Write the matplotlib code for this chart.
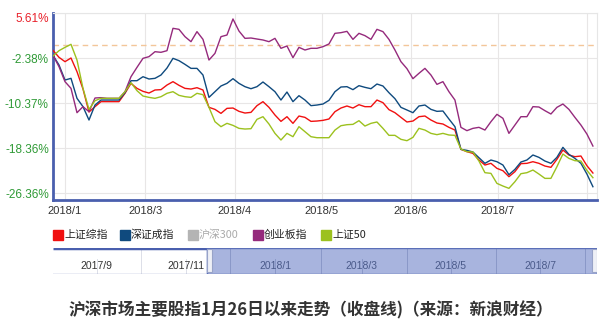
import numpy as np
import pandas as pd
import matplotlib
matplotlib.use("Agg")
import matplotlib.pyplot as plt
from matplotlib.patches import Rectangle

plt.rcParams['font.family'] = ['Noto Sans CJK SC', 'DejaVu Sans']

# 收盘价相对 1 月 26 日的涨跌幅 (%), 大约每两天一个读数
dates = pd.date_range('2018-01-28', '2018-08-03', periods=91)

sh_comp = [-1.02, -2.26, -3.03, -2.38, -4.81, -7.89, -11.97, -11.02, -10.13, -10.13, -10.13, -10.13, -8.65, -6.88, -7.77, -8.30, -8.60,
           -8.06, -8.00, -7.18, -6.58, -7.23, -7.77, -7.89, -7.65, -8.06, -11.14, -11.50, -12.21, -11.32, -11.26, -11.85,
           -12.15, -12.03, -10.84, -10.13, -11.14, -12.50, -13.63, -12.80, -13.98, -12.68, -12.92, -13.63, -13.57, -13.45, -13.21, -11.91,
           -11.26, -10.90, -11.26, -10.67, -11.02, -11.02, -9.84, -10.31, -11.55, -12.09, -12.92, -13.74, -13.57, -12.80, -12.68, -13.39,
           -13.92, -14.10, -14.69, -15.17, -18.60, -19.01, -19.31, -20.49, -21.38, -21.08, -21.97, -22.39, -23.45, -22.56, -21.14,
           -21.08, -20.79, -21.08, -21.56, -21.79, -20.37, -18.72, -19.60, -19.90, -19.78, -21.50, -22.80]

sz_comp = [-1.91, -3.62, -6.29, -5.99, -9.54, -11.02, -13.39, -10.73, -9.84, -9.84, -9.84, -9.84, -8.54, -6.41, -6.41, -5.70, -6.11,
           -5.99, -5.40, -4.16, -2.44, -2.85, -3.51, -4.22, -4.22, -5.40, -9.37, -8.36, -7.35, -6.88, -6.05, -6.88,
           -7.47, -7.83, -7.47, -6.64, -7.47, -8.36, -9.84, -8.42, -10.13, -9.07, -9.84, -10.84, -10.73, -10.55, -9.90, -8.36,
           -7.53, -7.47, -8.00, -7.29, -7.59, -7.83, -7.00, -7.35, -8.54, -9.60, -11.14, -11.61, -12.09, -10.90, -10.73, -11.50,
           -11.85, -11.79, -13.21, -14.57, -18.60, -18.78, -19.07, -20.08, -21.08, -20.49, -20.79, -21.38, -23.10, -22.15, -20.85,
           -20.49, -19.60, -20.02, -20.67, -21.08, -20.02, -18.24, -19.49, -20.20, -21.08, -22.98, -25.23]

chinext = [-1.91, -3.92, -6.58, -7.77, -12.09, -11.02, -11.91, -9.48, -9.42, -9.54, -9.54, -9.54, -8.36, -5.70, -4.04, -2.44, -2.14,
           -1.26, -1.37, -1.08, 2.89, 2.71, 1.41, 0.52, 2.30, 0.93, -2.74, -1.55, 1.41, 1.70, 4.55, 2.41,
           1.11, 1.17, 0.99, 0.82, 0.52, 1.11, -0.66, -0.25, -2.32, -0.49, -0.96, -0.66, -0.66, -0.37, 0.11, 2.00,
           2.12, 2.35, 0.93, 2.00, 1.59, 0.93, 2.71, 2.30, 0.93, -0.96, -3.03, -4.27, -6.05, -5.10, -4.22, -5.40,
           -7.06, -6.58, -8.36, -9.84, -14.69, -15.28, -14.87, -14.69, -15.17, -13.69, -12.38, -13.09, -15.76, -14.28, -12.80,
           -12.80, -11.02, -11.08, -11.73, -12.32, -11.14, -10.55, -11.50, -12.92, -14.28, -15.88, -18.01]

sh50 = [-2.03, -1.08, -0.49, 0.05, -2.74, -7.77, -11.50, -9.96, -9.54, -9.54, -9.54, -9.54, -8.36, -6.76, -8.18, -9.13, -9.37,
        -9.54, -9.25, -8.65, -8.36, -9.01, -9.25, -9.37, -8.65, -8.89, -11.14, -13.69, -14.57, -13.98, -14.34, -14.87,
        -14.99, -14.93, -13.27, -12.80, -14.10, -15.76, -16.94, -15.76, -16.35, -14.57, -15.46, -16.35, -16.53, -16.53, -16.53, -15.17,
        -14.40, -14.22, -14.16, -13.51, -14.46, -13.98, -13.74, -14.87, -16.11, -16.11, -16.82, -17.06, -16.47, -14.87, -15.17, -15.76,
        -15.99, -15.76, -16.05, -16.11, -18.54, -19.01, -19.07, -20.67, -22.74, -22.86, -24.64, -25.11, -25.52, -24.34, -22.92,
        -22.74, -22.27, -22.98, -23.75, -23.75, -21.68, -19.43, -20.20, -20.61, -20.67, -22.33, -23.63]

names = ['上证综指', '深证成指', '沪深300', '创业板指', '上证50']
colors = ['#f01010', '#0f4a7e', '#b4b4b4', '#952a7c', '#9cc11e']

yticks = [5.61, -2.38, -10.37, -18.36, -26.36]
month_ticks = pd.to_datetime(['2018-02-01', '2018-03-01', '2018-04-01', '2018-05-01',
                              '2018-06-01', '2018-07-01', '2018-08-01'])
month_labels = ['2018/1', '2018/3', '2018/4', '2018/5', '2018/6', '2018/7', '']

nav_months = pd.date_range('2017-08-01', '2018-08-01', freq='MS')
nav_labels = {'2017-09-01': '2017/9', '2017-11-01': '2017/11', '2018-01-01': '2018/1',
              '2018-03-01': '2018/3', '2018-05-01': '2018/5', '2018-07-01': '2018/7'}

title = '沪深市场主要股指1月26日以来走势（收盘线)（来源：新浪财经）'

W, H = 610, 330
fig = plt.figure(figsize=(W / 100, H / 100), dpi=100)


def fx(px):
    return px / W


def fy(py):
    return 1 - py / H


# ---- main chart
ax = fig.add_axes([fx(53), fy(200), fx(544), 187 / H])
ax.set_xlim(dates[0], pd.Timestamp('2018-08-04 10:00'))
ax.set_ylim(-27.59, 5.61)

ax.axhline(0, color='#f3c699', lw=1, ls=(0, (4, 3)), zorder=1)
series = [sh_comp, sz_comp, chinext, sh50]
for vals, c in zip(series, [colors[0], colors[1], colors[3], colors[4]]):
    ax.plot(dates, vals, color=c, lw=1.0, zorder=3)

ax.set_yticks(yticks)
ax.set_yticklabels(['%.2f%%' % v for v in yticks], family='Liberation Sans', fontsize=8.5)
for i, lab in enumerate(ax.get_yticklabels()):
    lab.set_color('#e8202a' if i == 0 else '#2f9a36')
ax.get_yticklabels()[0].set_verticalalignment('top')

ax.set_xticks(month_ticks)
ax.set_xticklabels(month_labels, family='Liberation Sans', fontsize=8, color='#333333')
ax.tick_params(length=0, pad=3)
ax.tick_params(axis='x', pad=4)

ax.grid(color='#e8e6e6', lw=0.8)
ax.set_axisbelow(True)
for s in ['left', 'bottom']:
    ax.spines[s].set_color('#4a5fae')
    ax.spines[s].set_linewidth(2)
for s in ['top', 'right']:
    ax.spines[s].set_color('#e6e6e6')
    ax.spines[s].set_linewidth(0.8)

# ---- legend
leg_x = [53, 120, 188, 253, 321]
for x0, name, c in zip(leg_x, names, colors):
    fig.patches.append(Rectangle((fx(x0), fy(239.5)), fx(10), 10 / H,
                                 transform=fig.transFigure, color=c))
    fig.text(fx(x0 + 11), fy(234.5), name, fontsize=7.8, va='center',
             color='#aaaaaa' if name == '沪深300' else '#222222')

# ---- navigator
nav = fig.add_axes([fx(53), fy(273.5), fx(544), 26 / H])
nav_start, nav_end = pd.Timestamp('2017-08-02'), pd.Timestamp('2018-08-09')
sel_start = pd.Timestamp('2017-11-15')
nav.set_xlim(nav_start, nav_end)
nav.set_ylim(0, 1)
nav.axis('off')
nav.axvspan(sel_start, nav_end, color='#a8b4de', zorder=1)
for m in nav_months:
    top = 0.55 if m.strftime('%Y-%m-%d') in nav_labels else 1
    nav.plot([m, m], [0, top], color='#8a98c8' if m > sel_start else '#dcdfe8',
             lw=0.7, zorder=2)
for d, lab in nav_labels.items():
    nav.text(pd.Timestamp(d), 0.3, lab, ha='center', va='center', fontsize=7.5,
             family='Liberation Sans',
             color='#4a5a8a' if pd.Timestamp(d) > sel_start else '#333333', zorder=4)
nav.plot([nav_start, sel_start], [1, 1], color='#4a5fae', lw=2.5, zorder=3, solid_capstyle='butt')
nav.plot([nav_start, nav_end], [0, 0], color='#9aa6cc', lw=1, zorder=3)
nav.plot([sel_start, nav_end, nav_end, sel_start, sel_start], [1, 1, 0, 0, 1],
         color='#5b6fb8', lw=1, zorder=3)
for d in [sel_start, nav_end - pd.Timedelta(days=3.5)]:
    nav.add_patch(Rectangle((d, 0.04), pd.Timedelta(days=3.5), 0.92,
                            facecolor='#eef0f6', edgecolor='#98a3c8', lw=0.8, zorder=5))

# ---- title
fig.text(fx(311), fy(310), title, ha='center', va='center', fontsize=12,
         fontweight='bold', color='#333333')

fig.savefig('out.png', dpi=100)
